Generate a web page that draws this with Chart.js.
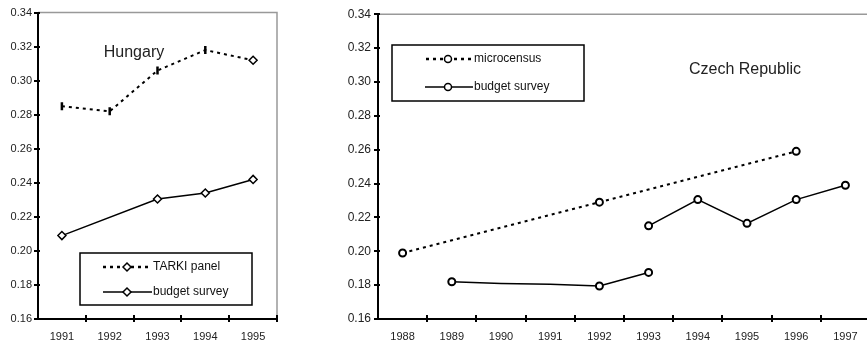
<!DOCTYPE html>
<html>
<head>
<meta charset="utf-8">
<script src="https://cdn.jsdelivr.net/npm/chart.js@4/dist/chart.umd.min.js"></script>
<style>
  html, body { margin: 0; padding: 0; background: #fff; overflow: hidden; width: 867px; height: 343px; }
  #left { position: absolute; left: 0; top: 0; width: 290px; height: 343px; }
  #right { position: absolute; left: 290px; top: 0; width: 590px; height: 343px; }
</style>
</head>
<body>
<div id="left"><canvas id="hu"></canvas></div>
<div id="right"><canvas id="cz"></canvas></div>
<script>
// Hungary
const huYears = ["1991", "1992", "1993", "1994", "1995"];
const huTarki = [0.285, 0.282, 0.306, 0.318, 0.312];
const huBudget = [0.209, null, 0.2305, 0.234, 0.242];

// Czech Republic
const czYears = ["1988", "1989", "1990", "1991", "1992", "1993", "1994", "1995", "1996", "1997"];
const czMicrocensus = [0.199, null, null, null, 0.229, null, null, null, 0.259, null];
const czBudgetOld = [null, 0.182, 0.181, 0.1805, 0.1795, 0.1875, null, null, null, null];
const czBudgetNew = [null, null, null, null, null, 0.215, 0.2305, 0.2165, 0.2305, 0.239];

const yTicks = [0.16, 0.18, 0.20, 0.22, 0.24, 0.26, 0.28, 0.30, 0.32, 0.34];

const FONT = "'Liberation Sans', Arial, sans-serif";

// draws crossing tick marks, grey frame, boxed legend and country label
const decorPlugin = {
  id: "decor",
  afterDraw(chart, args, opts) {
    const ctx = chart.ctx;
    const a = chart.chartArea;
    const x = chart.scales.x;
    const y = chart.scales.y;
    ctx.save();

    // grey frame (top, and right when requested)
    ctx.strokeStyle = "#999";
    ctx.lineWidth = 1.5;
    ctx.beginPath();
    ctx.moveTo(a.left, a.top);
    ctx.lineTo(a.right, a.top);
    if (opts.rightFrame) ctx.lineTo(a.right, a.bottom);
    ctx.stroke();

    // ticks
    ctx.strokeStyle = "#000";
    ctx.lineWidth = 2;
    ctx.beginPath();
    yTicks.forEach((v) => {
      const py = Math.round(y.getPixelForValue(v));
      ctx.moveTo(a.left - 4, py);
      ctx.lineTo(a.left + 2, py);
    });
    const n = x.getLabels().length;
    for (let i = 1; i <= n; i++) {
      const px = i === n ? a.right : Math.round((x.getPixelForValue(i - 1) + x.getPixelForValue(i)) / 2);
      ctx.moveTo(px, a.bottom - 4);
      ctx.lineTo(px, a.bottom + 3);
    }
    ctx.stroke();

    // legend box
    const b = opts.box;
    ctx.lineWidth = 1.5;
    ctx.strokeRect(b.x, b.y, b.w, b.h);
    opts.items.forEach((it) => {
      ctx.strokeStyle = "#000";
      ctx.lineWidth = it.lw;
      ctx.setLineDash(it.dash || []);
      ctx.beginPath();
      ctx.moveTo(it.x0, it.y);
      ctx.lineTo(it.x1, it.y);
      ctx.stroke();
      ctx.setLineDash([]);
      ctx.fillStyle = "#fff";
      ctx.lineWidth = 1.5;
      Chart.helpers.drawPoint(ctx, { pointStyle: it.marker, radius: it.r, rotation: 0, borderWidth: 1.5 }, it.mx, it.y);
      ctx.fillStyle = "#111";
      ctx.font = "12px " + FONT;
      ctx.textBaseline = "middle";
      ctx.textAlign = "left";
      ctx.fillText(it.text, it.x1 + 1, it.y);
    });

    // country label
    ctx.fillStyle = "#222";
    ctx.font = opts.title.size + "px " + FONT;
    ctx.textAlign = "center";
    ctx.textBaseline = "middle";
    ctx.fillText(opts.title.text, opts.title.x, opts.title.y);
    ctx.restore();
  },
};

function scaleOptions(yWidth, yPad, tickSize) {
  return {
    x: {
      type: "category",
      offset: true,
      grid: { display: false, drawTicks: false },
      border: { display: true, color: "#000", width: 2 },
      ticks: { color: "#222", font: { family: FONT, size: 11 }, padding: 11, maxRotation: 0, autoSkip: false },
      afterFit: (s) => { s.height = 24; },
    },
    y: {
      min: 0.16,
      max: 0.34,
      grid: { display: false, drawTicks: false },
      border: { display: true, color: "#000", width: 2 },
      afterBuildTicks: (s) => { s.ticks = yTicks.map((v) => ({ value: v })); },
      ticks: {
        color: "#222",
        font: { family: FONT, size: tickSize },
        padding: yPad,
        callback: (v) => Number(v).toFixed(2),
      },
      afterFit: (s) => { s.width = yWidth; },
    },
  };
}

new Chart(document.getElementById("hu"), {
  type: "line",
  data: {
    labels: huYears,
    datasets: [
      {
        label: "TARKI panel",
        data: huTarki,
        borderColor: "#000",
        borderWidth: 2,
        borderDash: [3, 4],
        pointStyle: ["line", "line", "line", "line", "rectRot"],
        rotation: [90, 90, 90, 90, 0],
        pointRadius: [4, 4, 4, 4, 4],
        pointBorderWidth: [2.5, 2.5, 2.5, 2.5, 1.5],
        pointBackgroundColor: "#fff",
        pointBorderColor: "#000",
        spanGaps: true,
      },
      {
        label: "budget survey",
        data: huBudget,
        borderColor: "#000",
        borderWidth: 1.5,
        pointStyle: "rectRot",
        pointRadius: 4,
        pointBorderWidth: 1.5,
        pointBackgroundColor: "#fff",
        pointBorderColor: "#000",
        spanGaps: true,
      },
    ],
  },
  options: {
    responsive: true,
    maintainAspectRatio: false,
    animation: false,
    layout: { padding: { left: 0, top: 10, right: 13, bottom: 0 } },
    scales: scaleOptions(38, 6, 11),
    plugins: {
      legend: { display: false },
      tooltip: { enabled: false },
      decor: {
        rightFrame: true,
        box: { x: 80, y: 253, w: 172, h: 52 },
        items: [
          { text: "TARKI panel", y: 267, x0: 103, x1: 152, mx: 127, r: 4, marker: "rectRot", lw: 2.5, dash: [3, 4] },
          { text: "budget survey", y: 292, x0: 103, x1: 152, mx: 127, r: 4, marker: "rectRot", lw: 1.5 },
        ],
        title: { text: "Hungary", x: 134, y: 53, size: 16 },
      },
    },
  },
  plugins: [decorPlugin],
});

new Chart(document.getElementById("cz"), {
  type: "line",
  data: {
    labels: czYears,
    datasets: [
      {
        label: "microcensus",
        data: czMicrocensus,
        borderColor: "#000",
        borderWidth: 2,
        borderDash: [3, 4],
        pointStyle: "circle",
        pointRadius: 3.5,
        pointBorderWidth: 2,
        pointBackgroundColor: "#fff",
        pointBorderColor: "#000",
        spanGaps: true,
      },
      {
        label: "budget survey",
        data: czBudgetOld,
        borderColor: "#000",
        borderWidth: 1.5,
        pointStyle: "circle",
        pointRadius: [0, 3.5, 0, 0, 3.5, 3.5, 0, 0, 0, 0],
        pointBorderWidth: 2,
        pointBackgroundColor: "#fff",
        pointBorderColor: "#000",
      },
      {
        label: "budget survey (new)",
        data: czBudgetNew,
        borderColor: "#000",
        borderWidth: 1.5,
        pointStyle: "circle",
        pointRadius: 3.5,
        pointBorderWidth: 2,
        pointBackgroundColor: "#fff",
        pointBorderColor: "#000",
      },
    ],
  },
  options: {
    responsive: true,
    maintainAspectRatio: false,
    animation: false,
    layout: { padding: { left: 0, top: 10, right: 10, bottom: 0 } },
    scales: scaleOptions(88, 7, 12),
    plugins: {
      legend: { display: false },
      tooltip: { enabled: false },
      decor: {
        rightFrame: false,
        box: { x: 102, y: 45, w: 192, h: 56 },
        items: [
          { text: "microcensus", y: 59, x0: 136, x1: 183, mx: 158, r: 3.5, marker: "circle", lw: 2.5, dash: [3, 4] },
          { text: "budget survey", y: 87, x0: 135, x1: 183, mx: 158, r: 3.5, marker: "circle", lw: 1.5 },
        ],
        title: { text: "Czech Republic", x: 455, y: 70, size: 16 },
      },
    },
  },
  plugins: [decorPlugin],
});
</script>
</body>
</html>
